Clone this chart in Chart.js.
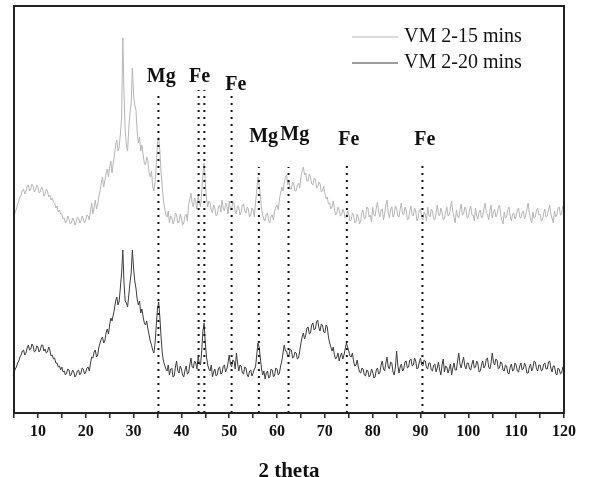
<!DOCTYPE html>
<html>
<head>
<meta charset="utf-8">
<script src="https://cdn.jsdelivr.net/npm/chart.js@4.4.1/dist/chart.umd.min.js"></script>
<style>
  html, body { margin: 0; padding: 0; background: #fff; overflow: hidden; }
  canvas { display: block; }
</style>
</head>
<body>
<canvas id="xrd" width="590" height="477"></canvas>
<script>
// 2 theta grid, 5 to 120 in 0.25 steps
const twoTheta = Array.from({ length: 461 }, (_, i) => 5 + i * 0.25);

// intensities (a.u.), 20 values per 5 degrees
const vm15 = [
  196, 201, 204, 209, 212, 216, 218, 223, 224, 219, 222, 227, 228, 222, 224, 229, 227, 221, 223, 228,
  226, 220, 221, 226, 224, 217, 219, 224, 222, 216, 218, 213, 215, 211, 210, 205, 207, 201, 203, 199,
  199, 194, 195, 190, 192, 197, 194, 189, 190, 195, 193, 188, 191, 196, 195, 190, 192, 197, 194, 190,
  193, 198, 197, 193, 203, 210, 199, 206, 213, 204, 208, 217, 222, 230, 236, 226, 232, 240, 244, 236,
  246, 252, 240, 250, 258, 268, 273, 262, 266, 280, 295, 375, 320, 282, 268, 262, 285, 300, 310, 345,
  318, 308, 303, 282, 270, 276, 262, 268, 258, 250, 248, 256, 252, 240, 236, 242, 226, 222, 232, 248,
  270, 276, 262, 240, 226, 212, 205, 198, 196, 202, 190, 197, 196, 189, 192, 200, 198, 190, 191, 199,
  195, 188, 190, 197, 199, 192, 208, 214, 220, 210, 206, 215, 212, 204, 218, 210, 206, 222, 240, 250,
  230, 214, 206, 212, 210, 203, 200, 208, 205, 197, 198, 206, 208, 201, 213, 205, 202, 210, 207, 199,
  212, 203, 204, 211, 210, 201, 199, 207, 206, 198, 201, 208, 209, 202, 200, 206, 204, 196, 198, 205,
  203, 196, 210, 222, 236, 228, 218, 204, 198, 194, 192, 199, 200, 192, 190, 197, 198, 193, 202, 206,
  208, 203, 214, 220, 226, 222, 230, 236, 238, 228, 232, 224, 224, 231, 229, 222, 222, 228, 230, 225,
  236, 242, 246, 238, 240, 232, 232, 239, 236, 229, 228, 235, 234, 225, 226, 231, 229, 221, 222, 227,
  220, 214, 216, 209, 210, 204, 206, 212, 204, 198, 200, 206, 203, 197, 198, 204, 201, 195, 196, 202,
  199, 192, 193, 200, 198, 190, 191, 199, 196, 189, 192, 201, 203, 194, 195, 206, 205, 196, 198, 191,
  206, 198, 197, 205, 211, 201, 196, 203, 204, 193, 199, 208, 213, 200, 195, 204, 206, 196, 199, 207,
  205, 197, 196, 204, 210, 199, 198, 206, 203, 193, 194, 202, 207, 198, 197, 205, 202, 192, 195, 203,
  204, 196, 193, 201, 199, 192, 206, 198, 196, 204, 202, 194, 193, 200, 208, 199, 197, 205, 201, 193,
  194, 201, 206, 197, 198, 205, 212, 201, 196, 190, 203, 197, 195, 203, 209, 198, 199, 206, 204, 195,
  196, 203, 207, 198, 198, 192, 205, 197, 194, 201, 203, 195, 197, 204, 210, 200, 199, 193, 202, 208,
  195, 201, 204, 196, 198, 205, 208, 199, 193, 189, 201, 195, 196, 203, 206, 197, 192, 199, 200, 194,
  197, 203, 205, 196, 195, 201, 202, 194, 198, 204, 210, 200, 194, 190, 201, 195, 196, 203, 205, 198,
  199, 192, 193, 200, 204, 196, 197, 203, 208, 199, 195, 190, 202, 196, 198, 205, 206, 198, 199, 207,
  203
];

const vm20 = [
  40, 44, 46, 50, 52, 56, 58, 62, 63, 58, 60, 65, 68, 63, 64, 69, 67, 61, 62, 67,
  66, 61, 63, 68, 68, 62, 64, 60, 61, 66, 63, 57, 58, 54, 55, 50, 50, 46, 47, 43,
  46, 41, 42, 38, 40, 44, 43, 37, 39, 43, 41, 36, 38, 42, 43, 38, 40, 45, 44, 39,
  41, 45, 46, 42, 50, 56, 55, 61, 63, 56, 58, 66, 70, 74, 76, 70, 72, 80, 84, 79,
  88, 95, 92, 98, 104, 112, 116, 108, 112, 126, 140, 163, 130, 112, 110, 106, 118, 130, 140, 163,
  145, 132, 125, 114, 108, 112, 100, 104, 96, 90, 88, 92, 84, 78, 72, 68, 63, 60, 70, 88,
  104, 111, 96, 76, 60, 52, 48, 44, 42, 48, 38, 44, 45, 36, 37, 46, 52, 42, 40, 47,
  44, 38, 36, 43, 47, 39, 40, 48, 55, 46, 45, 52, 50, 44, 56, 50, 48, 62, 82, 90,
  70, 56, 48, 44, 42, 48, 36, 41, 44, 37, 38, 45, 46, 39, 40, 47, 48, 41, 44, 50,
  58, 49, 46, 53, 52, 44, 60, 50, 42, 48, 47, 40, 39, 46, 45, 38, 36, 42, 43, 37,
  40, 44, 46, 58, 70, 66, 55, 44, 38, 42, 34, 40, 42, 35, 36, 44, 43, 36, 38, 45,
  44, 38, 40, 47, 52, 60, 68, 62, 62, 56, 58, 64, 63, 55, 56, 61, 60, 54, 55, 62,
  70, 76, 80, 74, 78, 85, 86, 79, 80, 88, 90, 83, 84, 91, 93, 85, 82, 89, 88, 81,
  80, 88, 86, 76, 70, 66, 62, 66, 58, 54, 56, 60, 52, 57, 60, 54, 58, 64, 70, 66,
  62, 57, 56, 60, 52, 47, 48, 53, 46, 41, 40, 45, 44, 38, 37, 43, 42, 36, 38, 44,
  41, 35, 36, 43, 45, 39, 40, 48, 52, 44, 42, 50, 56, 46, 44, 51, 50, 41, 38, 46,
  62, 48, 40, 46, 49, 42, 44, 51, 52, 45, 46, 53, 54, 47, 48, 55, 52, 44, 45, 51,
  55, 48, 47, 53, 52, 45, 44, 50, 50, 43, 42, 48, 49, 41, 45, 51, 43, 38, 48, 54,
  41, 47, 46, 40, 44, 49, 38, 45, 50, 43, 43, 52, 60, 49, 45, 51, 56, 47, 44, 50,
  50, 44, 43, 49, 53, 45, 46, 52, 49, 41, 42, 48, 52, 45, 47, 54, 55, 46, 44, 50,
  60, 51, 48, 54, 53, 44, 45, 51, 50, 43, 42, 48, 47, 40, 39, 46, 49, 42, 43, 50,
  48, 42, 41, 47, 50, 43, 44, 50, 47, 40, 40, 46, 49, 42, 45, 52, 51, 44, 42, 48,
  48, 42, 43, 49, 50, 44, 44, 51, 52, 45, 41, 47, 47, 40, 38, 45, 44, 39, 40, 46,
  46
];

// reference peak lines (Mg / Fe)
const markerTheta = [35.2, 43.6, 44.8, 50.5, 56.2, 62.4, 74.6, 90.4];
const markerTop = [321, 323, 323, 320, 246, 246, 248, 248];

const peakLabels = ['Mg', 'Fe', 'Fe', 'Mg', 'Mg', 'Fe', 'Fe'];
const labelTheta = [35.8, 43.8, 51.4, 57.2, 63.7, 75.0, 90.9];
const labelLevel = [336, 336, 328, 276, 278, 273, 273];

const seriesNames = ['VM 2-15 mins', 'VM 2-20 mins'];
const seriesColors = ['#b5b5b5', '#3c3c3c'];

const markerSets = markerTheta.map((t, i) => ({
    label: 'marker',
    data: [{ x: t, y: 0 }, { x: t, y: markerTop[i] }],
    borderColor: '#111',
    borderWidth: 2,
    borderDash: [2, 5],
    pointRadius: 0,
    order: 0
}));

const decorPlugin = {
    id: 'decor',
    afterDraw(chart) {
        const { ctx, chartArea: a, scales: { x, y } } = chart;
        ctx.save();

        // frame
        ctx.strokeStyle = '#222';
        ctx.lineWidth = 2;
        ctx.strokeRect(a.left, a.top, a.right - a.left, a.bottom - a.top);

        // peak labels
        ctx.fillStyle = '#111';
        ctx.font = 'bold 20px "Liberation Serif", serif';
        ctx.textAlign = 'center';
        ctx.textBaseline = 'middle';
        peakLabels.forEach((txt, i) => {
            ctx.fillText(txt, x.getPixelForValue(labelTheta[i]), y.getPixelForValue(labelLevel[i]));
        });

        // legend
        ctx.font = '20px "Liberation Serif", serif';
        ctx.textAlign = 'left';
        seriesNames.forEach((name, i) => {
            const ly = 37 + i * 26;
            ctx.strokeStyle = seriesColors[i];
            ctx.lineWidth = 1;
            ctx.beginPath();
            ctx.moveTo(352, ly);
            ctx.lineTo(398, ly);
            ctx.stroke();
            ctx.fillStyle = '#111';
            ctx.fillText(name, 404, ly);
        });

        // axis title
        ctx.font = 'bold 21px "Liberation Serif", serif';
        ctx.textAlign = 'center';
        ctx.textBaseline = 'alphabetic';
        ctx.fillText('2 theta', (a.left + a.right) / 2, 477);

        ctx.restore();
    }
};

new Chart(document.getElementById('xrd'), {
    type: 'line',
    data: {
        datasets: [
            {
                label: seriesNames[0],
                data: twoTheta.map((t, i) => ({ x: t, y: vm15[i] })),
                borderColor: seriesColors[0],
                borderWidth: 1,
                pointRadius: 0,
                order: 2
            },
            {
                label: seriesNames[1],
                data: twoTheta.map((t, i) => ({ x: t, y: vm20[i] })),
                borderColor: seriesColors[1],
                borderWidth: 1,
                pointRadius: 0,
                order: 1
            },
            ...markerSets
        ]
    },
    options: {
        responsive: false,
        animation: false,
        devicePixelRatio: 1,
        layout: { padding: { left: 14, right: 26, top: 6, bottom: 0 } },
        plugins: {
            legend: { display: false },
            tooltip: { enabled: false }
        },
        scales: {
            x: {
                type: 'linear',
                min: 5,
                max: 120,
                afterFit: (scale) => { scale.height = 64; },
                border: { display: true, color: '#222', width: 2 },
                grid: {
                    drawOnChartArea: false,
                    drawTicks: true,
                    tickLength: 5,
                    color: '#222',
                    lineWidth: 1.5
                },
                ticks: {
                    stepSize: 5,
                    autoSkip: false,
                    maxRotation: 0,
                    padding: 4,
                    color: '#111',
                    font: { family: '"Liberation Serif", serif', size: 16, weight: 'bold' },
                    callback: (v) => (v % 10 === 0 ? v : '')
                }
            },
            y: {
                display: false,
                min: 0,
                max: 407
            }
        }
    },
    plugins: [decorPlugin]
});
</script>
</body>
</html>
